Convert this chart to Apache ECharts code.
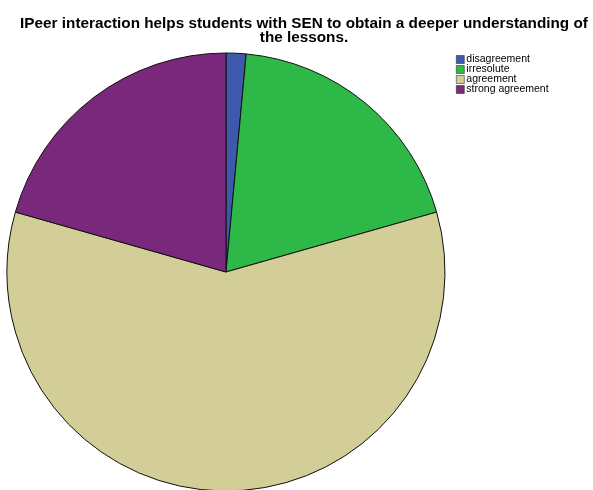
<!DOCTYPE html>
<html><head><meta charset="utf-8">
<script src="https://cdn.jsdelivr.net/npm/echarts@6/dist/echarts.min.js"></script>
<style>html,body{margin:0;padding:0;background:#fff}#c{width:593px;height:490px}</style>
</head><body><div id="c"></div>
<script>
const categories = ['disagreement', 'irresolute', 'agreement', 'strong agreement'];
const counts = [1, 13, 40, 14];
const colors = ['#3e58ac', '#2eb848', '#d3ce97', '#7a287c'];
const titleText = 'IPeer interaction helps students with SEN to obtain a deeper understanding of\nthe lessons.';

const chart = echarts.init(document.getElementById('c'));
chart.setOption({
  animation: false,
  backgroundColor: '#fff',
  title: {
    text: titleText,
    left: 299, top: 12, textAlign: 'center',
    textStyle: { fontFamily: 'Liberation Sans', fontWeight: 'bold', fontSize: 15.3, lineHeight: 14, color: '#000' }
  },
  legend: {
    orient: 'vertical', left: 451, top: 49,
    itemWidth: 8, itemHeight: 8, itemGap: -1,
    icon: 'rect',
    itemStyle: { borderColor: '#333', borderWidth: 0.6 },
    textStyle: { fontFamily: 'Liberation Sans', fontSize: 10.5, color: '#000', padding: [0, 0, 0, -3] },
    data: categories
  },
  series: [{
    type: 'pie',
    center: [226, 272],
    radius: 219,
    startAngle: 90,
    clockwise: true,
    label: { show: false },
    labelLine: { show: false },
    silent: true,
    itemStyle: { borderColor: '#111', borderWidth: 1 },
    data: categories.map((c, i) => ({ name: c, value: counts[i], itemStyle: { color: colors[i] } }))
  }]
});
</script></body></html>
